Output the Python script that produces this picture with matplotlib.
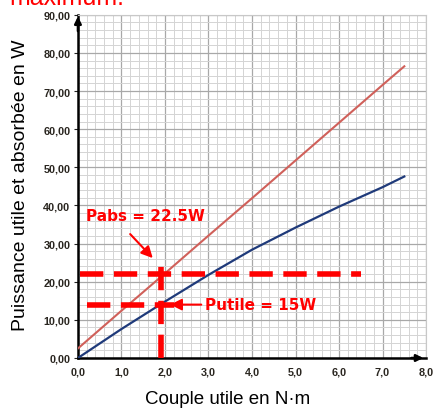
import matplotlib.pyplot as plt
import numpy as np
from matplotlib.ticker import MultipleLocator, FuncFormatter

# values
couple = [0.0, 1.0, 2.0, 3.0, 4.0, 5.0, 6.0, 7.0, 7.5]
p_abs = [2.5, 12.4, 22.2, 32.1, 41.9, 51.8, 61.7, 71.6, 76.5]
p_utile = [0.0, 7.6, 14.8, 21.8, 28.4, 34.2, 39.7, 44.8, 47.6]

x_ticks = [0, 1, 2, 3, 4, 5, 6, 7, 8]
y_ticks = [0, 10, 20, 30, 40, 50, 60, 70, 80, 90]

c_point = 1.9
pabs_level = 22.0
putile_level = 14.0

fig = plt.figure(figsize=(4.33, 4.10), dpi=100)
ax = fig.add_axes([0.180, 0.1244, 0.804, 0.837])

ax.set_xlim(0, 8)
ax.set_ylim(0, 90)
ax.set_xticks(x_ticks)
ax.set_yticks(y_ticks)
ax.xaxis.set_minor_locator(MultipleLocator(0.2))
ax.yaxis.set_minor_locator(MultipleLocator(2))
ax.grid(which="major", color="#a8a8a8", linewidth=0.9)
ax.grid(which="minor", color="#d4d4d4", linewidth=0.7)
ax.set_axisbelow(True)

ax.xaxis.set_major_formatter(FuncFormatter(lambda v, p: f"{v:.1f}".replace(".", ",")))
ax.yaxis.set_major_formatter(FuncFormatter(lambda v, p: f"{v:.2f}".replace(".", ",")))
ax.tick_params(which="major", labelsize=7.8, colors="#222222", length=3, width=0.8, pad=2.5)
ax.tick_params(axis="x", which="major", length=0, pad=6)
ax.tick_params(which="minor", length=0)
for lab in ax.get_xticklabels() + ax.get_yticklabels():
    lab.set_fontweight("bold")
    lab.set_family("Liberation Sans")
    lab.set_color("#2a2620")

for s in ["top", "right"]:
    ax.spines[s].set_color("#c8c8c8")
    ax.spines[s].set_linewidth(0.8)
for s in ["left", "bottom"]:
    ax.spines[s].set_color("black")
    ax.spines[s].set_linewidth(1.8)

# axis arrows
ax.annotate("", xy=(0, 90.3), xytext=(0, 85), xycoords="data",
            arrowprops=dict(arrowstyle="-|>", color="black", lw=1.8,
                            mutation_scale=10), annotation_clip=False)
ax.annotate("", xy=(8.0, 0), xytext=(7.6, 0), xycoords="data",
            arrowprops=dict(arrowstyle="-|>", color="black", lw=1.8,
                            mutation_scale=10), annotation_clip=False)

ax.plot(couple, p_abs, color="#d0605a", linewidth=1.5, zorder=3)
ax.plot(couple, p_utile, color="#1f3a7a", linewidth=1.6, zorder=3)

# red dashed reading lines
dash = dict(color="#ff0000", linewidth=4, linestyle=(0, (4.2, 1.9)), zorder=4,
            dash_capstyle="butt")
ax.plot([0.05, 6.5], [pabs_level, pabs_level], **dash)
ax.plot([0.2, 2.2], [putile_level, putile_level], **dash)
ax.plot([c_point, c_point], [0, 25.5], **dash)

ax.text(1.54, 37.3, "Pabs = 22.5W", ha="center", va="center", color="#ff0000",
        fontsize=11, fontweight="bold")
ax.annotate("", xy=(1.72, 26.2), xytext=(1.2, 32.5),
            arrowprops=dict(arrowstyle="-|>", color="#ff0000", lw=1.5,
                            mutation_scale=17, shrinkA=0, shrinkB=0))
ax.annotate("Putile = 15W", xy=(2.12, 14.0), xytext=(2.93, 14.0),
            ha="left", va="center", color="#ff0000", fontsize=11,
            fontweight="bold",
            arrowprops=dict(arrowstyle="-|>", color="#ff0000", lw=1.5,
                            mutation_scale=17, shrinkA=1, shrinkB=0))

ax.set_xlabel("Couple utile en N\u00b7m", fontsize=13.5, family="Liberation Sans")
ax.xaxis.set_label_coords(0.431, -0.094)
ax.set_ylabel("Puissance utile et absorbée en W", fontsize=14,
              family="Liberation Sans")
ax.yaxis.set_label_coords(-0.142, 0.507)

# clipped text at the top of the reference
fig.text(0.022, 0.987, "maximum.", color="#ff0000", fontsize=18,
         ha="left", va="baseline", family="Liberation Sans")

fig.savefig("out.png", dpi=100)
